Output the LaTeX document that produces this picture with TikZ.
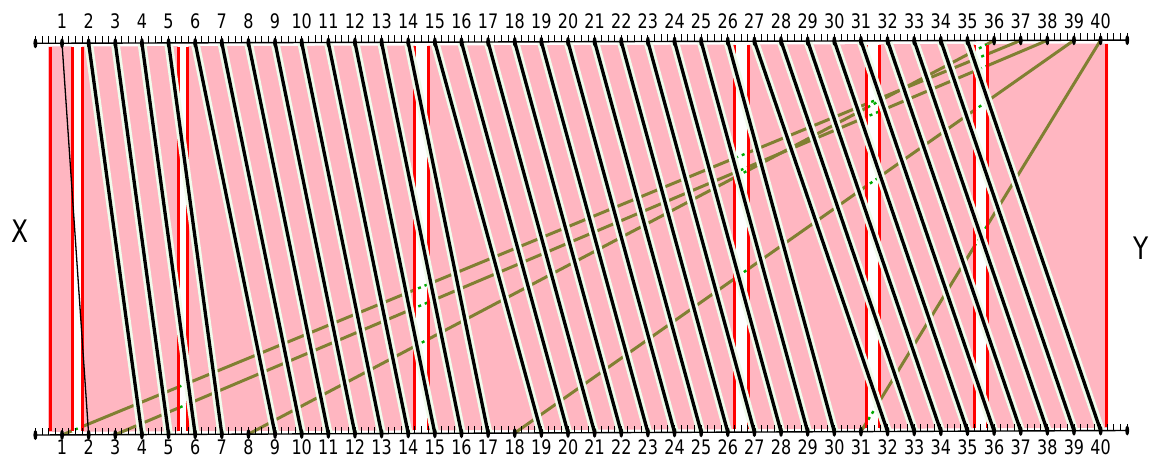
\documentclass[tikz,border=0pt]{standalone}
\usepackage{fontspec}
\newfontfamily\lblfont[FakeStretch=0.8]{DejaVu Sans}
\usetikzlibrary{shapes.geometric}
\definecolor{barpink}{RGB}{255,182,193}
\definecolor{haloclr}{RGB}{240,252,236}
\definecolor{olivebar}{RGB}{128,128,50}
\definecolor{dashgreen}{RGB}{0,170,0}
\tikzset{
  axdot/.style={ellipse, fill=black, minimum width=4pt, minimum height=10pt, inner sep=0pt},
  link/.style={draw=haloclr, line width=2.7pt, double=black, double distance=3.3pt},
  thinlink/.style={draw=black, line width=1.3pt},
  olivelink/.style={draw=olivebar, line width=3pt},
  greenlink/.style={draw=dashgreen, line width=2.4pt, dash pattern=on 3pt off 4pt},
  redbar/.style={draw=red, line width=3pt},
  axisline/.style={draw=black, line width=1.4pt},
  tickmark/.style={draw=black, line width=0.9pt},
  numlbl/.style={font=\lblfont\fontsize{20}{20}\selectfont, inner sep=0pt},
  sidelbl/.style={font=\lblfont\fontsize{31}{31}\selectfont, inner sep=0pt}
}
\begin{document}
\begin{tikzpicture}[x=1pt, y=-1pt]
\useasboundingbox (0,0) rectangle (1151,459);
\foreach \p in {0,...,41} {
  \coordinate (t\p) at ({35.4+26.63*\p},{43.3-0.078*\p});
  \coordinate (b\p) at ({35.4+26.63*\p},{435-0.11*\p});
}
\fill[barpink] (48,46.5) -- (1108,43.5) -- (1108,427.8) -- (48,431.8) -- cycle;
\foreach \i/\j in {1/37,3/38,8/36,18/39,31/40}
  \draw[olivelink] (b\i) -- (t\j);
\foreach \l/\r in {1.386/1.76,5.37/5.72,14.25/14.75,26.27/26.77,31.19/31.69,35.28/35.76}
  \fill[white] ({35.4+26.63*\l},44) rectangle ({35.4+26.63*\r},432);
\begin{scope}
\clip foreach \l/\r in {1.386/1.76,5.37/5.72,14.25/14.75,26.27/26.77,31.19/31.69,35.28/35.76}
  {({35.4+26.63*\l},44) rectangle ({35.4+26.63*\r},432)};
\foreach \i/\j in {1/37,3/38,8/36,18/39,31/40}
  \draw[greenlink] (b\i) -- (t\j);
\end{scope}
\foreach \r in {0.55,1.386,1.76,5.37,5.72,14.25,14.75,26.27,26.77,31.19,31.69,35.28,35.76,40.23}
  \draw[redbar] ({35.4+26.63*\r},{47.5-0.078*\r}) -- ({35.4+26.63*\r},{431.5-0.11*\r});
\draw[thinlink] (t1) -- (b2);
\foreach \a/\b/\s in {2/5/2,6/14/3,15/26/4,27/35/5}
  \foreach \i in {\a,...,\b} {
    \pgfmathtruncatemacro\j{\i+\s}
    \draw[link] (t\i) -- (b\j);
  }
\draw[axisline] (t0) -- (t41);
\draw[axisline] (b0) -- (b41);
\foreach \q in {0,...,164} {
  \draw[tickmark] ({35.4+26.63*\q/4},{43.3-0.078*\q/4}) -- ++(0,-7);
  \draw[tickmark] ({35.4+26.63*\q/4},{435-0.11*\q/4}) -- ++(0,-7);
}
\foreach \p in {0,...,41} {
  \node[axdot] at (t\p) {};
  \node[axdot] at (b\p) {};
}
\foreach \p in {1,...,40} {
  \node[numlbl] (tl\p) at ({35.4+26.63*\p},21) {\p};
  \node[numlbl] (bl\p) at ({35.4+26.63*\p},447.5) {\p};
}
\node[sidelbl] (xl) at (20,231.5) {X};
\node[sidelbl] (yl) at (1141,248) {Y};
\end{tikzpicture}
\end{document}
